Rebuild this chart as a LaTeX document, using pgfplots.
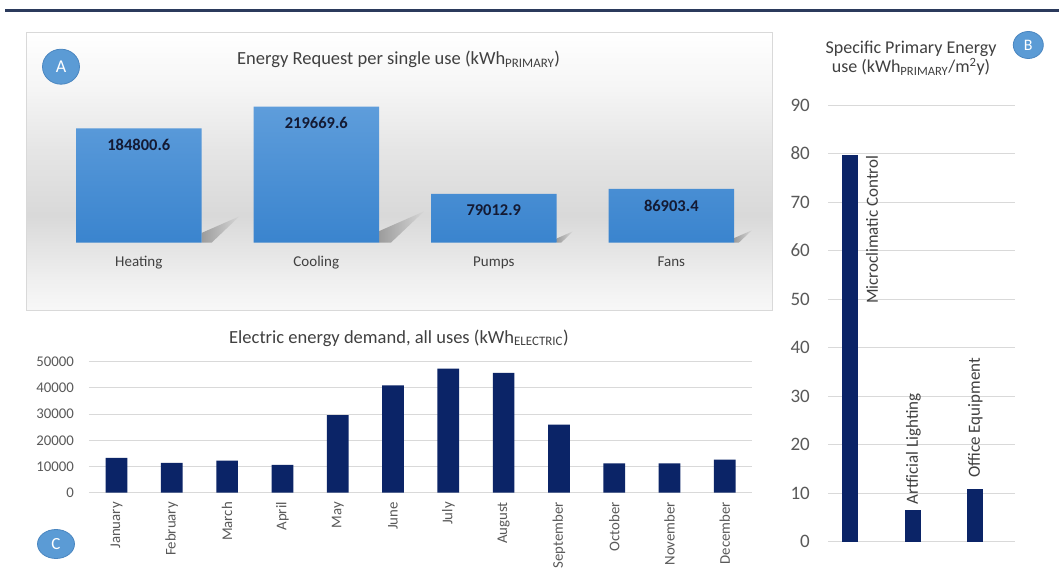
\documentclass[border=0pt]{standalone}
\usepackage{pgfplots}
\pgfplotsset{compat=1.18}
\usepackage{fontspec}
\setmainfont{Carlito}
\definecolor{navy}{HTML}{0B2467}
\definecolor{barTop}{HTML}{5E9DDB}
\definecolor{barBot}{HTML}{3A84CE}
\definecolor{gridc}{HTML}{D9D9D9}
\definecolor{titlec}{HTML}{404040}
\definecolor{tickc}{HTML}{595959}
\definecolor{circ}{HTML}{5B9BD5}
\definecolor{circb}{HTML}{4A86C0}
\definecolor{rulec}{HTML}{2B3A5C}
\definecolor{valc}{HTML}{141A33}
\definecolor{shL}{HTML}{9C9C9C}
\definecolor{shR}{HTML}{D6D6D6}
\pgfdeclareverticalshading{boxbg}{100bp}{color(0bp)=(white); color(25bp)=(white!97!black); color(30.4bp)=(white!94!black); color(42bp)=(white!85!black); color(54bp)=(white!90!black); color(64.6bp)=(white!96!black); color(75bp)=(white); color(100bp)=(white)}
\begin{document}
\begin{tikzpicture}[x=1pt,y=1pt]
\useasboundingbox (0,0) rectangle (1059,576);
\fill[white] (0,0) rectangle (1059,576);
\draw[rulec, line width=3pt] (5,565) -- (1059,565);
% box A
\shade[shading=boxbg] (26,266) rectangle (772.6,543.7);
\draw[gridc, line width=0.8pt] (26,266) rectangle (772.6,543.7);

% ---------- Panel A ----------
\begin{axis}[at={(50.05pt,333.3pt)}, anchor=south west, scale only axis,
  width=710pt, height=154.8pt, xmin=-0.5, xmax=3.5, ymin=0, ymax=250000,
  axis line style={draw=none}, major tick length=0pt, ytick=\empty,
  xtick={0,1,2,3}, xticklabels={Heating,Cooling,Pumps,Fans},
  xticklabel style={yshift=-23.8pt, anchor=base, inner sep=0pt, font=\fontsize{15}{16}\selectfont, text=titlec},
  clip=false]
\addplot[draw=none, left color=shL, right color=shR] coordinates {(0.3535,0) (0.3535,15708) (0.5662,42504) (0.41,0)} -- cycle;
\addplot[draw=none, left color=shL, right color=shR] coordinates {(1.3535,0) (1.3535,18672) (1.6063,50524) (1.42,0)} -- cycle;
\addplot[draw=none, left color=shL, right color=shR] coordinates {(2.3535,0) (2.3535,6716) (2.4444,18173) (2.38,0)} -- cycle;
\addplot[draw=none, left color=shL, right color=shR] coordinates {(3.3535,0) (3.3535,7387) (3.4535,19988) (3.38,0)} -- cycle;
\addplot[ybar, bar width=125.5pt, bar shift=0pt, draw=none, top color=barTop, bottom color=barBot,
  point meta=explicit symbolic, nodes near coords,
  nodes near coords style={anchor=center, yshift=-16.7pt, font=\bfseries\fontsize{16.5}{18}\selectfont, text=valc}]
  coordinates {(0,184800.6) [184800.6] (1,219669.6) [219669.6] (2,79012.9) [79012.9] (3,86903.4) [86903.4]};
\end{axis}

% ---------- Panel C ----------
\begin{axis}[at={(88.85pt,83.3pt)}, anchor=south west, scale only axis,
  width=663.6pt, height=131pt, xmin=-0.5, xmax=11.5, ymin=0, ymax=50000,
  axis line style={draw=none}, major tick length=0pt,
  ytick={0,10000,20000,30000,40000,50000}, ymajorgrids, grid style={gridc, line width=0.9pt},
  xtick={0,1,2,3,4,5,6,7,8,9,10,11},
  xticklabels={January,February,March,April,May,June,July,August,September,October,November,December},
  xticklabel style={yshift=-9.3pt, rotate=90, anchor=east, inner sep=0pt, font=\fontsize{14.8}{16}\selectfont, text=tickc},
  yticklabel style={xshift=-14.8pt, anchor=east, inner sep=0pt, font=\fontsize{14.8}{16}\selectfont, text=tickc},
  /pgf/number format/1000 sep={}, /pgf/number format/assume math mode=true,
  scaled y ticks=false, clip=false]
\addplot[ybar, bar width=21.7pt, bar shift=0pt, fill=navy, draw=none]
  coordinates {(0,13250) (1,11350) (2,12250) (3,10650) (4,29600) (5,41000) (6,47400) (7,45750) (8,26000) (9,11200) (10,11200) (11,12650)};
\end{axis}

% ---------- Panel B ----------
\begin{axis}[at={(828.3pt,34.3pt)}, anchor=south west, scale only axis,
  width=186.7pt, height=436.7pt, xmin=-0.35, xmax=2.635, ymin=0, ymax=90,
  axis line style={draw=none}, major tick length=0pt,
  ytick={0,10,20,30,40,50,60,70,80,90}, xtick=\empty,
  ymajorgrids, grid style={gridc, line width=0.9pt},
  yticklabel style={xshift=-18.3pt, anchor=east, inner sep=0pt, font=\fontsize{19}{21}\selectfont, text=tickc},
  /pgf/number format/assume math mode=true, clip=false]
\addplot[ybar, bar width=16pt, bar shift=0pt, fill=navy, draw=none,
  point meta=explicit symbolic, nodes near coords,
  nodes near coords style={xshift=15.7pt, rotate=90, anchor=north east, inner sep=0pt, font=\fontsize{17}{19}\selectfont, text=titlec}]
  coordinates {(0,79.6) [Microclimatic Control]};
\addplot[ybar, bar width=16pt, bar shift=0pt, fill=navy, draw=none,
  point meta=explicit symbolic, nodes near coords,
  nodes near coords style={yshift=5pt, xshift=0.8pt, rotate=90, anchor=west, inner sep=0pt, font=\fontsize{17}{19}\selectfont, text=titlec}]
  coordinates {(1,6.55) [Artficial Lighting]};
\addplot[ybar, bar width=16pt, bar shift=0pt, fill=navy, draw=none,
  point meta=explicit symbolic, nodes near coords,
  nodes near coords style={yshift=11pt, rotate=90, anchor=west, inner sep=0pt, font=\fontsize{17}{19}\selectfont, text=titlec}]
  coordinates {(2,10.9) [Office Equipment]};
\end{axis}

% ---------- titles and circles ----------
\node[anchor=base west, inner sep=0pt, text=titlec, font=\fontsize{18.5}{20}\selectfont] at (237,511.5) {Energy Request per single use (kWh\textsubscript{PRIMARY})};
\node[anchor=base west, inner sep=0pt, text=titlec, font=\fontsize{18.5}{20}\selectfont] at (229,232.8) {Electric energy demand, all uses (kWh\textsubscript{ELECTRIC})};
\node[align=center, anchor=center, inner sep=0pt, text=titlec, font=\fontsize{18}{19.5}\selectfont] at (911,518) {Specific Primary Energy\\use (kWh\textsubscript{PRIMARY}/m\textsuperscript{2}y)};

\draw[circb, fill=circ, line width=0.8pt] (61,509.3) ellipse (18.5 and 17.5);
\node[text=white, font=\fontsize{18}{20}\selectfont] at (61,509.3) {A};
\draw[circb, fill=circ, line width=0.8pt] (1028.3,531) ellipse (15 and 13.5);
\node[text=white, font=\fontsize{16}{18}\selectfont] at (1028.3,531) {B};
\draw[circb, fill=circ, line width=0.8pt] (56,32) ellipse (18.5 and 14.5);
\node[text=white, font=\fontsize{17}{19}\selectfont] at (56,32) {C};
\end{tikzpicture}
\end{document}
